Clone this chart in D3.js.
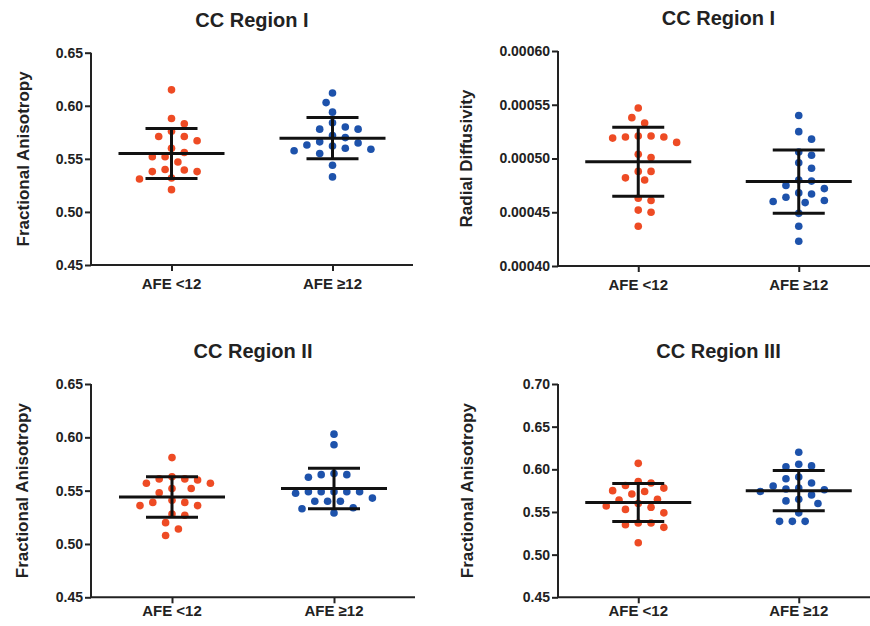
<!DOCTYPE html>
<html>
<head>
<meta charset="utf-8">
<script src="https://cdn.jsdelivr.net/npm/d3@7"></script>
<style>
  body { margin: 0; background: #fff; }
  svg { display: block; font-family: "Liberation Sans", Arial, sans-serif; }
</style>
</head>
<body>
<div id="chart"></div>
<script>
// groups on the x axis
const groups = ["AFE <12", "AFE \u226512"];

// CC Region I - fractional anisotropy
const faRegion1Low = [0.615, 0.588, 0.583, 0.576, 0.571, 0.571, 0.567, 0.560, 0.556, 0.552,
    0.552, 0.547, 0.5395, 0.540, 0.538, 0.538, 0.532, 0.531, 0.521];
const faRegion1High = [0.612, 0.603, 0.594, 0.584, 0.578, 0.578, 0.580, 0.570, 0.572, 0.565,
    0.562, 0.563, 0.566, 0.559, 0.560, 0.555, 0.5577, 0.544, 0.533];
const faRegion1Stats = [[0.555, 0.0235], [0.5695, 0.0195]];

// CC Region I - radial diffusivity
const rdRegion1Low = [0.000547, 0.000538, 0.000533, 0.000521, 0.000520, 0.000519, 0.000520,
    0.000521, 0.000515, 0.000504, 0.000501, 0.000488, 0.000488, 0.000482, 0.000480,
    0.000463, 0.000461, 0.000452, 0.000450, 0.000437];
const rdRegion1High = [0.000540, 0.000525, 0.000518, 0.000503, 0.000506, 0.000496, 0.000491,
    0.000480, 0.000475, 0.000479, 0.000472, 0.000467, 0.000461, 0.000459, 0.000460,
    0.000464, 0.000468, 0.000449, 0.000437, 0.000423];
const rdRegion1Stats = [[0.000497, 0.000032], [0.0004785, 0.0000295]];

// CC Region II - fractional anisotropy
const faRegion2Low = [0.581, 0.563, 0.561, 0.557, 0.561, 0.557, 0.560, 0.552, 0.552, 0.548,
    0.541, 0.539, 0.536, 0.539, 0.536, 0.528, 0.527, 0.520, 0.514, 0.508];
const faRegion2High = [0.603, 0.593, 0.565, 0.5625, 0.565, 0.566, 0.549, 0.549, 0.549, 0.549,
    0.5475, 0.549, 0.543, 0.540, 0.540, 0.540, 0.534, 0.533, 0.529];
const faRegion2Stats = [[0.544, 0.019], [0.552, 0.019]];

// CC Region III - fractional anisotropy
const faRegion3Low = [0.607, 0.5856, 0.581, 0.584, 0.575, 0.571, 0.574, 0.578, 0.560, 0.5555,
    0.565, 0.553, 0.557, 0.564, 0.549, 0.537, 0.535, 0.532, 0.537, 0.514];
const faRegion3High = [0.620, 0.606, 0.603, 0.604, 0.591, 0.589, 0.584, 0.578, 0.576, 0.577,
    0.5805, 0.574, 0.570, 0.563, 0.560, 0.565, 0.549, 0.539, 0.539, 0.539];
const faRegion3Stats = [[0.561, 0.0223], [0.575, 0.0235]];

const titles = ["CC Region I", "CC Region I", "CC Region II", "CC Region III"];
const yLabels = ["Fractional Anisotropy", "Radial Diffusivity", "Fractional Anisotropy", "Fractional Anisotropy"];
const yDomains = [[0.45, 0.65], [0.0004, 0.0006], [0.45, 0.65], [0.45, 0.70]];
const yTicks = [
    [0.45, 0.50, 0.55, 0.60, 0.65],
    [0.0004, 0.00045, 0.0005, 0.00055, 0.0006],
    [0.45, 0.50, 0.55, 0.60, 0.65],
    [0.45, 0.50, 0.55, 0.60, 0.65, 0.70]
];
const tickFormats = [".2f", ".5f", ".2f", ".2f"];

const panelValues = [
    [faRegion1Low, faRegion1High],
    [rdRegion1Low, rdRegion1High],
    [faRegion2Low, faRegion2High],
    [faRegion3Low, faRegion3High]
];
const panelStats = [faRegion1Stats, rdRegion1Stats, faRegion2Stats, faRegion3Stats];

const colors = ["#ee4b24", "#1d52ab"];

// layout of the four panels
const layout = [
    { left: 91, right: 413, top: 52.7, bottom: 265, labelX: 23, catY: 289 },
    { left: 558, right: 879, top: 51, bottom: 266, labelX: 466, catY: 290 },
    { left: 91, right: 415, top: 384, bottom: 597.3, labelX: 22, catY: 616 },
    { left: 558, right: 879, top: 384, bottom: 597.3, labelX: 467, catY: 616 }
];

const width = 870, height = 626;
const dotR = 3.8;

const svg = d3.select("#chart").append("svg")
    .attr("width", width)
    .attr("height", height);

// simple swarm: put each dot at the centre or the nearest free slot left/right
function swarm(values, y, cx, step, minDist) {
    let pts = values.map(v => ({ v: v, py: y(v) }))
        .sort((a, b) => a.py - b.py);
    let placed = [];
    pts.forEach((p, i) => {
        let side = i % 2 === 0 ? 1 : -1;
        for (let k = 0; k < 40; k++) {
            let cands = k === 0 ? [0] : [side * k * step, -side * k * step];
            let ok = cands.find(dx => placed.every(q =>
                Math.hypot(q.dx - dx, q.py - p.py) >= minDist));
            if (ok !== undefined) {
                p.dx = ok;
                break;
            }
        }
        placed.push(p);
    });
    return placed.map(p => ({ v: p.v, x: cx + p.dx, y: p.py }));
}

layout.forEach((L, pi) => {
    let g = svg.append("g");

    let x = d3.scalePoint()
        .domain(groups)
        .range([L.left, L.right])
        .padding(0.5);

    let y = d3.scaleLinear()
        .domain(yDomains[pi])
        .range([L.bottom, L.top]);

    // y axis
    let yAxis = g.append("g")
        .attr("transform", `translate(${L.left},0)`)
        .call(d3.axisLeft(y).tickValues(yTicks[pi]).tickFormat(d3.format(tickFormats[pi]))
            .tickSize(6).tickPadding(2));
    // x axis
    let xAxis = g.append("g")
        .attr("transform", `translate(0,${L.bottom})`)
        .call(d3.axisBottom(x).tickSize(6).tickFormat(""));

    [yAxis, xAxis].forEach(a => {
        a.select(".domain").attr("stroke", "#222").attr("stroke-width", 2);
        a.selectAll(".tick line").attr("stroke", "#222").attr("stroke-width", 2);
    });
    // domain paths without outer ticks
    yAxis.select(".domain").attr("d", `M0,${L.top}V${L.bottom}`);
    xAxis.select(".domain").attr("d", `M${L.left},0H${L.right}`);

    yAxis.selectAll(".tick text")
        .attr("fill", "#222")
        .attr("font-size", 14)
        .attr("font-weight", "bold")
        .attr("font-family", "Liberation Sans, Arial, sans-serif");

    // category labels
    g.selectAll(".cat")
        .data(groups)
        .join("text")
        .attr("x", d => x(d))
        .attr("y", L.catY)
        .attr("text-anchor", "middle")
        .attr("font-size", 15)
        .attr("font-weight", "bold")
        .attr("fill", "#222")
        .text(d => d);

    // title
    g.append("text")
        .attr("x", (L.left + L.right) / 2)
        .attr("y", L.top - 26)
        .attr("text-anchor", "middle")
        .attr("font-size", 20)
        .attr("font-weight", "bold")
        .attr("fill", "#222")
        .text(titles[pi]);

    // y label
    g.append("text")
        .attr("transform", `translate(${L.labelX},${(L.top + L.bottom) / 2}) rotate(-90)`)
        .attr("text-anchor", "middle")
        .attr("dominant-baseline", "central")
        .attr("font-size", 17)
        .attr("font-weight", "bold")
        .attr("fill", "#222")
        .text(yLabels[pi]);

    // dots
    groups.forEach((grp, gi) => {
        let pts = swarm(panelValues[pi][gi], y, x(grp), 6.4, 10);
        g.selectAll(".dot" + gi)
            .data(pts)
            .join("circle")
            .attr("cx", d => d.x)
            .attr("cy", d => d.y)
            .attr("r", dotR)
            .attr("fill", colors[gi]);
    });

    // mean and SD bars
    groups.forEach((grp, gi) => {
        let [m, sd] = panelStats[pi][gi];
        let cx = x(grp);
        let bars = g.append("g")
            .attr("stroke", "#111")
            .attr("stroke-width", 3);
        bars.append("line")
            .attr("x1", cx - 53).attr("x2", cx + 53)
            .attr("y1", y(m)).attr("y2", y(m));
        bars.append("line")
            .attr("x1", cx).attr("x2", cx)
            .attr("y1", y(m + sd)).attr("y2", y(m - sd));
        [m + sd, m - sd].forEach(v => {
            bars.append("line")
                .attr("x1", cx - 26).attr("x2", cx + 26)
                .attr("y1", y(v)).attr("y2", y(v));
        });
    });
});
</script>
</body>
</html>
